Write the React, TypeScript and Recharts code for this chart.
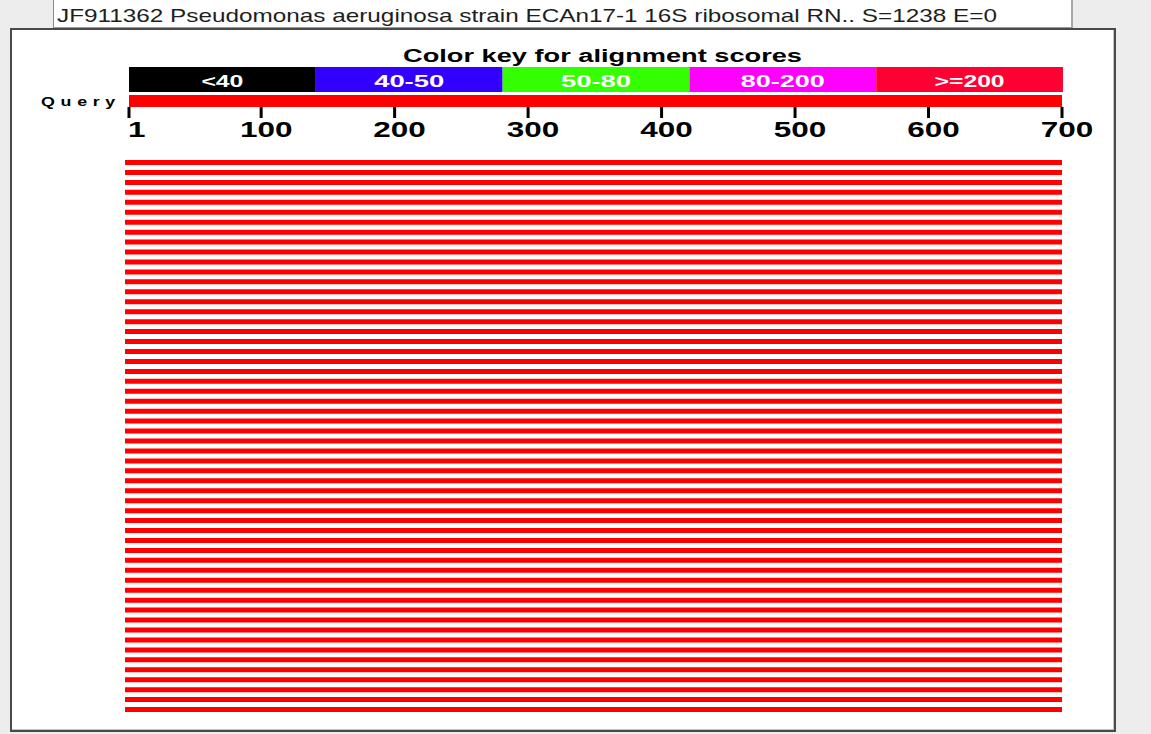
import { BarChart, Bar, XAxis, YAxis, LabelList } from 'recharts';

// BLAST graphic summary: colour key, query ruler and hits (all >=200)
const titleText = "JF911362 Pseudomonas aeruginosa strain ECAn17-1 16S ribosomal RN.. S=1238 E=0";
const keyTitle = "Color key for alignment scores";

const keyLabels = ["<40", "40-50", "50-80", "80-200", ">=200"];
const keyColors = ["#000000", "#3300ff", "#33ff00", "#ff00ff", "#ff0033"];
const keyWidths = [1, 1, 1, 1, 1];

const queryName = "Query";
const queryRange = [1, 700];
const axisTicks = [1, 100, 200, 300, 400, 500, 600, 700];

const hitStart = [
  1, 1, 1, 1, 1, 1, 1, 1, 1, 1, 1, 1, 1, 1,
  1, 1, 1, 1, 1, 1, 1, 1, 1, 1, 1, 1, 1, 1,
  1, 1, 1, 1, 1, 1, 1, 1, 1, 1, 1, 1, 1, 1,
  1, 1, 1, 1, 1, 1, 1, 1, 1, 1, 1, 1, 1, 1,
];
const hitEnd = [
  700, 700, 700, 700, 700, 700, 700, 700, 700, 700, 700, 700, 700, 700,
  700, 700, 700, 700, 700, 700, 700, 700, 700, 700, 700, 700, 700, 700,
  700, 700, 700, 700, 700, 700, 700, 700, 700, 700, 700, 700, 700, 700,
  700, 700, 700, 700, 700, 700, 700, 700, 700, 700, 700, 700, 700, 700,
];

const FONT = "'Liberation Sans', Arial, sans-serif";

const keyRow: any[] = [
  keyWidths.reduce((row: any, w, i) => ({ ...row, ["s" + i]: w, ["l" + i]: keyLabels[i] }), { row: "key" }),
];
const keyTotal = keyWidths.reduce((a, b) => a + b, 0);
const queryRow = [{ name: queryName, range: queryRange }];
const hitRows = hitStart.map((s, i) => ({ id: "hit" + (i + 1), range: [s, hitEnd[i]] }));

const KeyLabel = (props: any) => {
  const { x, y, width, height, value } = props;
  const label = String(value);
  return (
    <text
      x={x + width / 2}
      y={y + height / 2 + 7.5}
      textAnchor="middle"
      fill="#ffffff"
      fontSize={16}
      fontWeight="bold"
      fontFamily={FONT}
      textLength={label.length * 14}
      lengthAdjust="spacingAndGlyphs"
    >
      {label}
    </text>
  );
};

const AxisTick = (props: any) => {
  const { x, y, payload } = props;
  const label = String(payload.value);
  const first = payload.value === 1;
  return (
    <text
      x={first ? x - 1 : x + 5}
      y={y + 17}
      textAnchor={first ? 'start' : 'middle'}
      fill="#000000"
      fontSize={22}
      fontWeight="bold"
      fontFamily={FONT}
      textLength={label.length * 17.5}
      lengthAdjust="spacingAndGlyphs"
    >
      {label}
    </text>
  );
};

const QueryTick = (props: any) => {
  const { x, y, payload } = props;
  return (
    <text
      x={x - 77}
      y={y + 4.5}
      textAnchor="start"
      fill="#000000"
      fontSize={12.5}
      fontWeight="bold"
      fontFamily={FONT}
      letterSpacing={4}
      textLength={80}
      lengthAdjust="spacingAndGlyphs"
    >
      {payload.value}
    </text>
  );
};

export default function App() {
  return (
    <div style={{ position: 'absolute', left: 0, top: 0, width: 1151, height: 734, background: '#ededed', overflow: 'hidden' }}>
      {/* main panel */}
      <div
        style={{
          position: 'absolute', left: 10, top: 28, width: 1102, height: 700,
          background: '#ffffff', border: '2px solid #4a4a4a',
          boxShadow: 'inset -1px -1px 0 #c4c4c4',
        }}
      />
      {/* title box */}
      <div
        style={{
          position: 'absolute', left: 53, top: -2, width: 1017, height: 28,
          background: '#ffffff', borderLeft: '1px solid #8a8a8a', borderRight: '2px solid #a8a8a8',
          borderBottom: '1px solid #9a9a9a', borderTop: '1px solid #9a9a9a',
        }}
      />

      <div style={{ position: 'absolute', left: 0, top: 67 }}>
        <BarChart width={1151} height={25} data={keyRow} layout="vertical" barCategoryGap={0}
          margin={{ top: 0, right: 88, left: 129, bottom: 0 }}>
          <XAxis type="number" domain={[0, keyTotal]} hide />
          <YAxis type="category" dataKey="row" hide />
          {keyLabels.map((l, i) => (
            <Bar key={l} dataKey={"s" + i} stackId="key" fill={keyColors[i]} isAnimationActive={false}>
              <LabelList dataKey={"l" + i} content={KeyLabel} />
            </Bar>
          ))}
        </BarChart>
      </div>

      <div style={{ position: 'absolute', left: 0, top: 95 }}>
        <BarChart width={1151} height={57} data={queryRow} layout="vertical" barCategoryGap={0}
          margin={{ top: 0, right: 89, left: 0, bottom: 0 }}>
          <XAxis
            type="number"
            domain={[1, 700]}
            ticks={axisTicks}
            interval={0}
            axisLine={false}
            tickLine={{ stroke: '#000000', strokeWidth: 3 }}
            tickSize={11}
            height={45}
            tick={AxisTick}
          />
          <YAxis type="category" dataKey="name" width={129} axisLine={false} tickLine={false}
            interval={0} tickSize={0} tickMargin={11} tick={QueryTick} />
          <Bar dataKey="range" fill="#ff0000" isAnimationActive={false} />
        </BarChart>
      </div>

      <div style={{ position: 'absolute', left: 0, top: 158 }}>
        <BarChart width={1151} height={557} data={hitRows} layout="vertical"
          margin={{ top: 0, right: 89, left: 125, bottom: 0 }}>
          <XAxis type="number" domain={[1, 700]} hide />
          <YAxis type="category" dataKey="id" hide />
          <Bar dataKey="range" fill="#ff0000" barSize={5} isAnimationActive={false} />
        </BarChart>
      </div>

      <svg width={1151} height={734} style={{ position: 'absolute', left: 0, top: 0, pointerEvents: 'none' }}>
        <text x={57} y={22} fontSize={19} fontFamily={FONT} fill="#1e1e1e"
          textLength={940} lengthAdjust="spacingAndGlyphs">{titleText}</text>
        <text x={403} y={62} fontSize={18} fontWeight="bold" fontFamily={FONT} fill="#000000"
          textLength={399} lengthAdjust="spacingAndGlyphs">{keyTitle}</text>
      </svg>
    </div>
  );
}
